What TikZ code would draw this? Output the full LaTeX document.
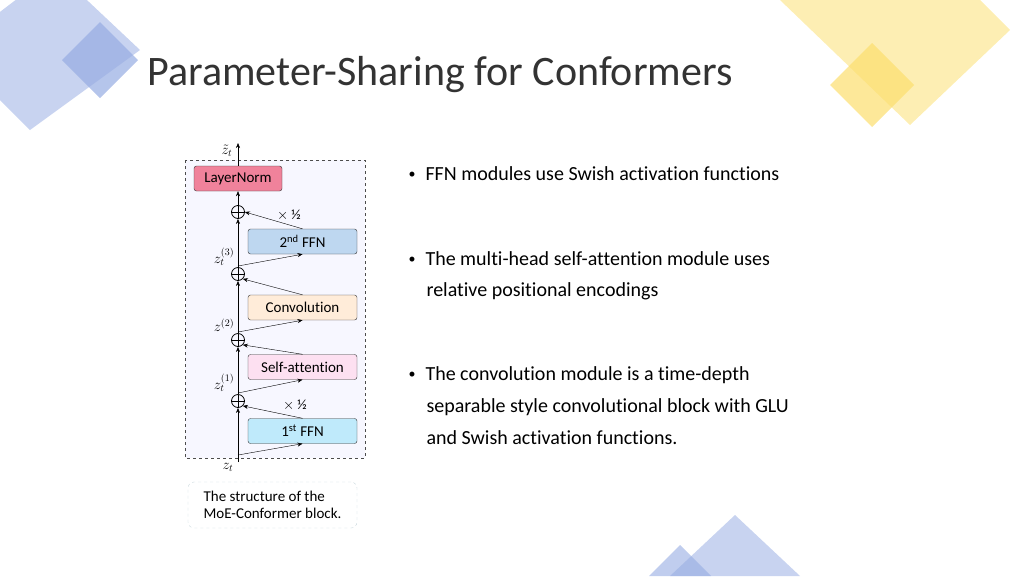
\documentclass[tikz,border=0pt]{standalone}
\usepackage{fontspec}
\setmainfont[Ligatures={NoCommon}]{Carlito}
\usetikzlibrary{arrows.meta}
\definecolor{dblue}{RGB}{186,200,236}
\definecolor{dblue2}{RGB}{150,172,226}
\definecolor{dyel}{RGB}{253,234,160}
\definecolor{dyel2}{RGB}{252,222,110}
\definecolor{lnpink}{RGB}{240,130,155}
\definecolor{ffnblue}{RGB}{190,215,240}
\tikzset{
 mod/.style={draw=black!80,rounded corners=2.5pt,minimum width=109pt,minimum height=25pt,font=\fontsize{15}{15}\selectfont,inner sep=0pt},
 sumc/.style={circle,draw,thick,minimum size=13pt,inner sep=0pt,path picture={\draw (path picture bounding box.north)--(path picture bounding box.south) (path picture bounding box.west)--(path picture bounding box.east);}},
 con/.style={-{Stealth[length=5pt,width=4pt]},thin},
 zl/.style={font=\fontsize{14}{14}\selectfont\itshape},
 bul/.style={anchor=west,font=\fontsize{20}{20}\selectfont,align=left}
}
\newcommand{\bdot}{\raisebox{2pt}{\scalebox{0.7}{•}}\hspace{10pt}}
\begin{document}
\begin{tikzpicture}[x=1pt,y=-1pt]
\useasboundingbox (0,0) rectangle (1024,576);
% decorations
\fill[dblue,opacity=.8] (55,-30)--(140,50)--(30,130)--(-50,50)--cycle;
\fill[dblue2,opacity=.7] (100,22)--(138,60)--(100,98)--(62,60)--cycle;
\fill[dyel,opacity=.8] (910,-70)--(1010,30)--(910,125)--(780,0)--cycle;
\fill[dyel2,opacity=.7] (872,43)--(914,85)--(872,127)--(830,85)--cycle;
\fill[dblue,opacity=.8] (735,515)--(800,576)--(670,576)--cycle;
\fill[dblue2,opacity=.6] (680,545)--(711,576)--(649,576)--cycle;
% title
\node[anchor=west,font=\fontsize{42}{42}\selectfont,text=black!80] (title) at (144,75) {Parameter-Sharing for Conformers};
% diagram
\fill[blue!3] (185,160) rectangle (365,458);
\draw[dashed,black!70] (185,160) rectangle (365,458);
\node[mod,fill=lnpink,minimum width=88pt] (ln) at (238,178.5) {LayerNorm};
\node[mod,fill=ffnblue] (f2) at (302.5,241.5) {2\textsuperscript{nd} FFN};
\node[mod,fill=orange!15] (cv) at (302.5,307.5) {Convolution};
\node[mod,fill=magenta!12] (sa) at (302.5,367) {Self-attention};
\node[mod,fill=cyan!25] (f1) at (302.5,431) {1\textsuperscript{st} FFN};
\node[sumc] (s4) at (238,212) {};
\node[sumc] (s3) at (238,274) {};
\node[sumc] (s2) at (238,340) {};
\node[sumc] (s1) at (238,401) {};
\coordinate (bot) at (238,462);
\coordinate (top) at (238,143);
\draw[con] (bot)--(s1);
\draw[con] (s1)--(s2);
\draw[con] (s2)--(s3);
\draw[con] (s3)--(s4);
\draw[con] (s4)--(ln);
\draw[con] (ln)--(top);
\coordinate (b1) at (238,455);
\coordinate (b2) at (238,393);
\coordinate (b3) at (238,332);
\coordinate (b4) at (238,266);
\draw[con] (b1)--(f1.south);
\draw[con] (f1.north)--(s1.south east);
\draw[con] (b2)--(sa.south);
\draw[con] (sa.north)--(s2.south east);
\draw[con] (b3)--(cv.south);
\draw[con] (cv.north)--(s3.south east);
\draw[con] (b4)--(f2.south);
\draw[con] (f2.north)--(s4.east);
\node[font=\fontsize{14}{14}\selectfont] (h1) at (295,405) {$\times$ ½};
\node[font=\fontsize{14}{14}\selectfont] (h2) at (289,215) {$\times$ ½};
\node[zl] (z0) at (228,467) {$z_t$};
\node[zl] (z1) at (224,383) {$z_t^{(1)}$};
\node[zl] (z2) at (224,325) {$z^{(2)}$};
\node[zl] (z3) at (224,257) {$z_t^{(3)}$};
\node[zl] (zt) at (227,151) {$\tilde z_t$};
\node[draw=cyan!25!gray!40,dashed,rounded corners=6pt,minimum width=169pt,minimum height=46pt,align=left,font=\fontsize{15}{17}\selectfont] (cap) at (272.5,505) {The structure of the\\MoE-Conformer block.};
% bullets
\node[bul] (t1) at (405,174) {\bdot FFN modules use Swish activation functions};
\node[bul] (t2) at (405,259) {\bdot The multi-head self-attention module uses};
\node[bul] (t2b) at (423,291) {relative positional encodings};
\node[bul] (t3) at (405,375) {\bdot The convolution module is a time-depth};
\node[bul] (t3b) at (423,407) {separable style convolutional block with GLU};
\node[bul] (t3c) at (423,438) {and Swish activation functions.};
\end{tikzpicture}
\end{document}
